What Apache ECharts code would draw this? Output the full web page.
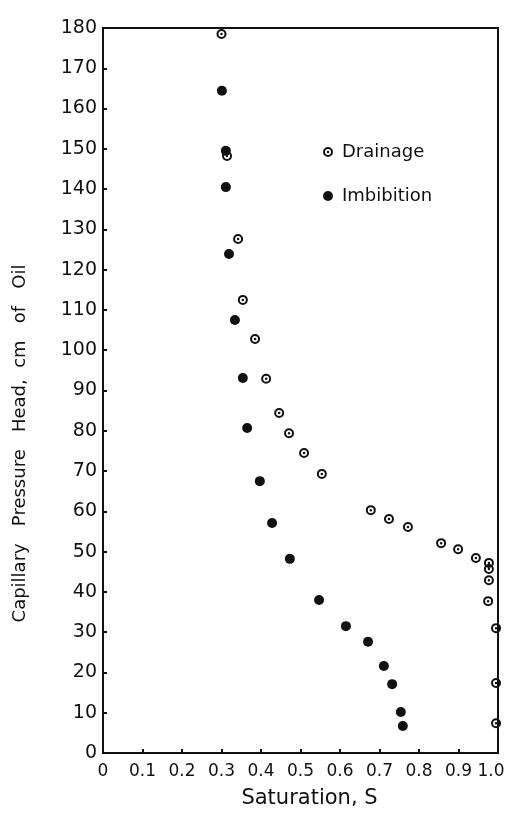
<!DOCTYPE html>
<html>
<head>
<meta charset="utf-8">
<script src="https://cdn.jsdelivr.net/npm/echarts@6/dist/echarts.min.js"></script>
<style>
  html, body { margin: 0; padding: 0; background: #fff; }
  #chart { width: 505px; height: 823px; }
</style>
</head>
<body>
<div id="chart"></div>
<script>
// Capillary pressure head vs. saturation: drainage and imbibition curves
const drainageS = [0.300, 0.314, 0.342, 0.354, 0.385, 0.413, 0.446, 0.471, 0.509, 0.554,
                   0.678, 0.724, 0.772, 0.856, 0.899, 0.944, 0.977, 0.977, 0.977, 0.975,
                   0.995, 0.995, 0.995];
const drainageH = [178.5, 148.2, 127.6, 112.5, 102.8, 92.9, 84.4, 79.4, 74.5, 69.3,
                   60.3, 58.1, 56.1, 52.1, 50.6, 48.4, 47.2, 45.7, 42.9, 37.7,
                   31.0, 17.4, 7.4];

const imbibitionS = [0.301, 0.311, 0.311, 0.319, 0.334, 0.354, 0.365, 0.397, 0.428, 0.473,
                     0.547, 0.615, 0.671, 0.711, 0.732, 0.754, 0.759];
const imbibitionH = [164.4, 149.5, 140.5, 123.9, 107.5, 93.1, 80.7, 67.5, 57.1, 48.2,
                     38.0, 31.5, 27.6, 21.6, 17.1, 10.2, 6.7];

const xTickLabels = ['0', '0.1', '0.2', '0.3', '0.4', '0.5', '0.6', '0.7', '0.8', '0.9', '1.0'];
const yTickLabels = ['0', '10', '20', '30', '40', '50', '60', '70', '80', '90',
                     '100', '110', '120', '130', '140', '150', '160', '170', '180'];

const seriesNames = ['Drainage', 'Imbibition'];
const xTitle = 'Saturation, S';
const yTitle = 'Capillary   Pressure   Head,  cm   of   Oil';

const INK = '#111';
const FONT = 'DejaVu Sans';

// open ring with a centre dot (nonzero winding: outer cw, hole ccw, dot cw)
const ringDot = 'path://M0,-10A10,10,0,1,1,0,10A10,10,0,1,1,0,-10Z' +
                'M0,-6A6,6,0,1,0,0,6A6,6,0,1,0,0,-6Z' +
                'M0,-2.5A2.5,2.5,0,1,1,0,2.5A2.5,2.5,0,1,1,0,-2.5Z';

const zip = (xs, ys) => xs.map((x, i) => [x, ys[i]]);

const chart = echarts.init(document.getElementById('chart'), null, { renderer: 'canvas' });

chart.setOption({
  animation: false,
  backgroundColor: '#fff',
  grid: {
    left: 103, right: 7, top: 28, bottom: 70,
    outerBoundsMode: 'none', containLabel: false,
    show: true, borderColor: INK, borderWidth: 2, backgroundColor: 'transparent'
  },
  legend: {
    data: seriesNames,
    orient: 'vertical',
    left: 318, top: 138,
    itemWidth: 10, itemHeight: 10, itemGap: 26,
    textStyle: { fontFamily: FONT, fontSize: 18, color: INK, padding: [0, 0, 0, 4] }
  },
  xAxis: {
    type: 'value', min: 0, max: 1, interval: 0.1,
    name: xTitle, nameLocation: 'middle', nameGap: 35,
    nameTextStyle: { fontFamily: FONT, fontSize: 21, color: INK, padding: [0, 0, 0, 18] },
    axisLine: { show: true, lineStyle: { color: INK, width: 2 } },
    axisTick: { show: true, inside: true, length: 4, lineStyle: { color: INK, width: 2 } },
    axisLabel: {
      fontFamily: FONT, fontSize: 17, color: INK, margin: 10,
      // the last label is nudged left so it stays inside the page edge
      formatter: v => {
        const i = Math.round(v * 10);
        return i === xTickLabels.length - 1 ? '{last|' + xTickLabels[i] + '}' : xTickLabels[i];
      },
      rich: { last: { fontFamily: FONT, fontSize: 17, color: INK, padding: [0, 14, 0, 0] } }
    },
    splitLine: { show: false }
  },
  yAxis: {
    type: 'value', min: 0, max: 180, interval: 10,
    name: yTitle, nameLocation: 'middle', nameGap: 74, nameRotate: 90,
    nameTextStyle: { fontFamily: FONT, fontSize: 18, color: INK, padding: [0, 106, 0, 0] },
    axisLine: { show: true, lineStyle: { color: INK, width: 2 } },
    axisTick: { show: true, inside: true, length: 4, lineStyle: { color: INK, width: 2 } },
    axisLabel: {
      fontFamily: FONT, fontSize: 19, color: INK, margin: 6,
      padding: [0, 0, 10, 0],
      formatter: v => yTickLabels[Math.round(v / 10)]
    },
    splitLine: { show: false }
  },
  series: [
    {
      name: seriesNames[0], type: 'scatter',
      data: zip(drainageS, drainageH),
      symbol: ringDot, symbolSize: 10, clip: false,
      itemStyle: { color: INK, opacity: 1 }
    },
    {
      name: seriesNames[1], type: 'scatter',
      data: zip(imbibitionS, imbibitionH),
      symbol: 'circle', symbolSize: 10, clip: false,
      itemStyle: { color: INK, opacity: 1 }
    }
  ]
});
</script>
</body>
</html>
